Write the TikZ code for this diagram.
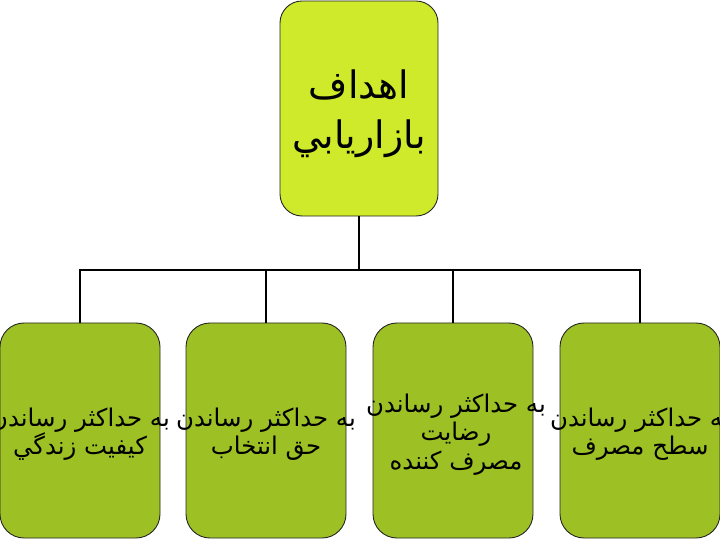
\documentclass[tikz,border=0pt]{standalone}
\usepackage{fontspec}
\TeXXeTstate=1
\newfontfamily\arabicfont[Script=Arabic]{DejaVu Sans}
\usetikzlibrary{positioning}
\definecolor{goallime}{RGB}{206,234,42}
\definecolor{aimolive}{RGB}{157,193,36}
\newcommand{\rtlline}[1]{\makebox[0pt]{\beginR #1\endR}}
\tikzset{
  goalbox/.style={draw=black!85, line width=0.9bp, fill=goallime, rounded corners=22bp, minimum width=158bp, minimum height=215bp, inner sep=0pt},
  aimbox/.style={draw=black!85, line width=0.9bp, fill=aimolive, rounded corners=24bp, minimum width=160bp, minimum height=215bp, inner sep=0pt},
  goaltext/.style={inner sep=0pt, align=center, yshift=-5bp, font=\arabicfont\fontsize{38}{50}\selectfont},
  aimtext/.style={inner sep=0pt, align=center, yshift=-4bp, font=\arabicfont\fontsize{24.5}{28.5}\selectfont},
  link/.style={line width=1.6bp, black}
}
\begin{document}
\begin{tikzpicture}[x=1bp,y=-1bp]
  \useasboundingbox (0,0) rectangle (720,540);
  \node[goalbox] (goal) at (359,108.5) {};
  \node[goaltext] (goallabel) at (goal.center) {\rtlline{اهداف}\\\rtlline{بازاريابي}};
  \coordinate (bar) at (359,270);
  \node[aimbox] (life) at (80,430.5) {};
  \node[aimtext] (lifelabel) at (life.center) {\rtlline{به حداكثر رساندن}\\\rtlline{كيفيت زندگي}};
  \node[aimbox] (choice) at (266,430.5) {};
  \node[aimtext] (choicelabel) at (choice.center) {\rtlline{به حداكثر رساندن}\\\rtlline{حق انتخاب}};
  \node[aimbox] (consumer) at (453,430.5) {};
  \node[aimtext] (consumerlabel) at ([xshift=3bp]consumer.center) {\rtlline{به حداكثر رساندن}\\\rtlline{رضايت}\\\rtlline{مصرف كننده}};
  \node[aimbox] (usage) at (640,430.5) {};
  \node[aimtext] (usagelabel) at (usage.center) {\rtlline{به حداكثر رساندن}\\\rtlline{سطح مصرف}};
  \draw[link] (goal.south) -- (bar);
  \foreach \aim in {life,choice,consumer,usage}
    \draw[link] (bar) -| (\aim.north);
\end{tikzpicture}
\end{document}
